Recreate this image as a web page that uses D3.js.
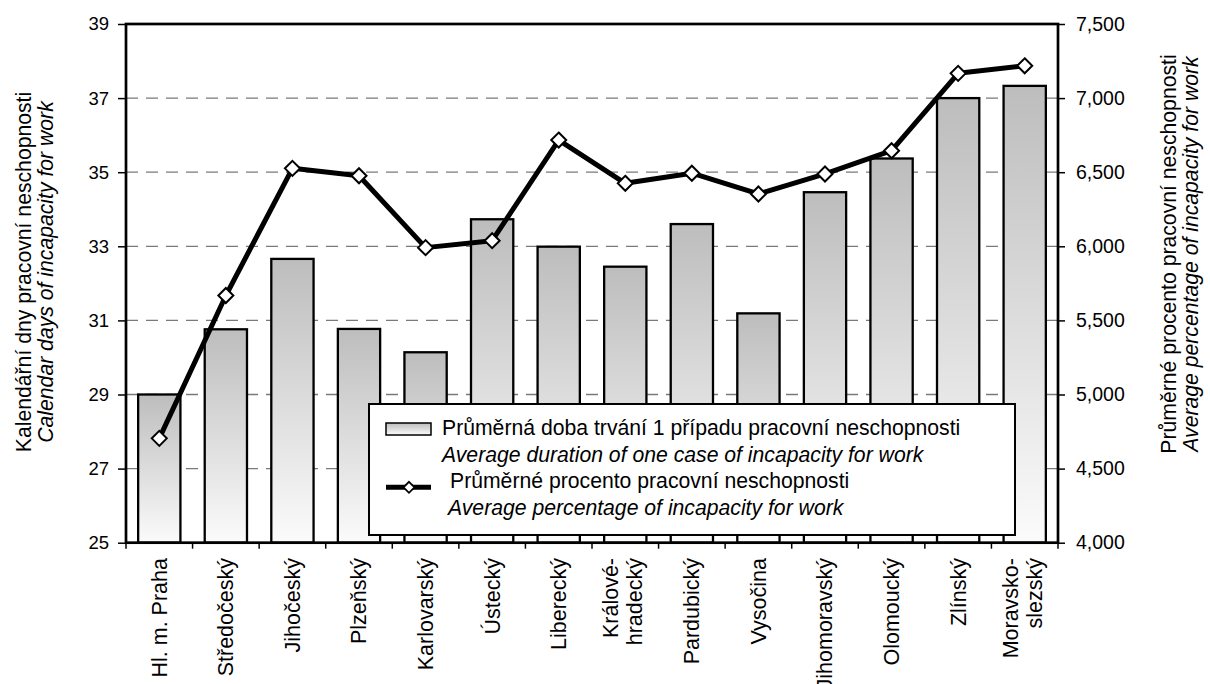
<!DOCTYPE html>
<html>
<head>
<meta charset="utf-8">
<script src="https://cdn.jsdelivr.net/npm/d3@7"></script>
<style>
  html, body { margin: 0; padding: 0; background: #fff; }
  svg { display: block; font-family: "Liberation Sans", Arial, sans-serif; }
</style>
</head>
<body>
<svg id="chart" width="1210" height="684"></svg>
<script>
// regions of the Czech Republic ("\n" = forced line break in the label)
const regions = ["Hl. m. Praha", "Středočeský", "Jihočeský", "Plzeňský", "Karlovarský", "Ústecký",
  "Liberecký", "Králové-\nhradecký", "Pardubický", "Vysočina", "Jihomoravský", "Olomoucký",
  "Zlínský", "Moravsko-\nslezský"];

// average duration of one case (calendar days) - bars, left axis
const avgDuration = [29.0, 30.76, 32.66, 30.77, 30.14, 33.73, 32.99, 32.45, 33.60, 31.19, 34.46, 35.37, 37.0, 37.33];

// average percentage of incapacity for work - line, right axis
const avgPercent = [4704, 5668, 6526, 6476, 5991, 6038, 6717, 6425, 6493, 6353, 6488, 6645, 7167, 7218];

const leftTicks = [25, 27, 29, 31, 33, 35, 37, 39];
const rightTicks = [4000, 4500, 5000, 5500, 6000, 6500, 7000, 7500];

const legendItems = [
  ["Průměrná doba trvání 1 případu pracovní neschopnosti", "Average duration of one case of incapacity for work"],
  ["Průměrné procento pracovní neschopnosti", "Average percentage of incapacity for work"]
];
const leftTitle = ["Kalendářní dny pracovní neschopnosti", "Calendar days of incapacity for work"];
const rightTitle = ["Průměrné procento pracovní neschopnosti", "Average percentage of incapacity for work"];

const svg = d3.select("#chart");
const plot = { left: 126, right: 1058, top: 24, bottom: 542.7 };

const x = d3.scaleBand().domain(regions).range([plot.left, plot.right]).padding(0);
const yL = d3.scaleLinear().domain([25, 39]).range([plot.bottom, plot.top]);
const yR = d3.scaleLinear().domain([4000, 7500]).range([plot.bottom, plot.top]);
const cx = d => x(d) + x.bandwidth() / 2;
const barW = x.bandwidth() * 0.635;

// gradient for the bars
const grad = svg.append("defs").append("linearGradient")
  .attr("id", "barGrad").attr("x1", 0).attr("y1", 0).attr("x2", 0).attr("y2", 1);
grad.append("stop").attr("offset", "0%").attr("stop-color", "#bdbdbd");
grad.append("stop").attr("offset", "100%").attr("stop-color", "#fbfbfb");

// dashed gridlines
svg.append("g").selectAll("line")
  .data(leftTicks.filter(t => t > 25 && t < 39))
  .join("line")
  .attr("x1", plot.left).attr("x2", plot.right)
  .attr("y1", d => yL(d)).attr("y2", d => yL(d))
  .attr("stroke", "#7a7a7a").attr("stroke-width", 1.3).attr("stroke-dasharray", "12,8");

// bars
svg.append("g").selectAll("rect")
  .data(regions)
  .join("rect")
  .attr("x", d => cx(d) - barW / 2)
  .attr("width", barW)
  .attr("y", (d, i) => yL(avgDuration[i]))
  .attr("height", (d, i) => plot.bottom - yL(avgDuration[i]))
  .attr("fill", "url(#barGrad)")
  .attr("stroke", "#000").attr("stroke-width", 2.3);

// line + diamond markers
const line = d3.line().x(d => cx(d)).y((d, i) => yR(avgPercent[i]));
svg.append("path")
  .attr("d", line(regions))
  .attr("fill", "none").attr("stroke", "#000").attr("stroke-width", 5)
  .attr("stroke-linejoin", "round");

const diamond = (px, py, r) => `M${px},${py - r}L${px + r},${py}L${px},${py + r}L${px - r},${py}Z`;
svg.append("g").selectAll("path")
  .data(regions)
  .join("path")
  .attr("d", (d, i) => diamond(cx(d), yR(avgPercent[i]), 7.5))
  .attr("fill", "#fff").attr("stroke", "#000").attr("stroke-width", 2);

// legend
const lg = svg.append("g");
lg.append("rect").attr("x", 369).attr("y", 404).attr("width", 646).attr("height", 131)
  .attr("fill", "#fff").attr("stroke", "#000").attr("stroke-width", 2);
lg.append("rect").attr("x", 386).attr("y", 423).attr("width", 45).attr("height", 12)
  .attr("fill", "url(#barGrad)").attr("stroke", "#000").attr("stroke-width", 1.5);
lg.append("line").attr("x1", 386).attr("x2", 431).attr("y1", 487.3).attr("y2", 487.3)
  .attr("stroke", "#000").attr("stroke-width", 5);
lg.append("path").attr("d", diamond(409, 487.3, 5.5))
  .attr("fill", "#fff").attr("stroke", "#000").attr("stroke-width", 1.8);
const legendText = [
  { t: legendItems[0][0], x: 442, y: 435, it: false },
  { t: legendItems[0][1], x: 442, y: 461.7, it: true },
  { t: legendItems[1][0], x: 450, y: 488.3, it: false },
  { t: legendItems[1][1], x: 448, y: 515, it: true }
];
lg.selectAll("text.leg").data(legendText).join("text")
  .attr("class", "leg")
  .attr("x", d => d.x).attr("y", d => d.y)
  .attr("font-size", "21.2px")
  .attr("font-style", d => d.it ? "italic" : "normal")
  .text(d => d.t);

// plot border
svg.append("rect")
  .attr("x", plot.left).attr("y", plot.top)
  .attr("width", plot.right - plot.left).attr("height", plot.bottom - plot.top)
  .attr("fill", "none").attr("stroke", "#000").attr("stroke-width", 2.7);

// left axis
const axL = svg.append("g").attr("transform", `translate(${plot.left},0)`)
  .call(d3.axisLeft(yL).tickValues(leftTicks).tickSize(8).tickPadding(9));
axL.select(".domain").remove();
axL.selectAll(".tick line").attr("stroke-width", 1.5);
axL.selectAll("text").attr("font-size", "18.5px").attr("font-family", "Liberation Sans, Arial, sans-serif").attr("fill", "#000");

// right axis
const axR = svg.append("g").attr("transform", `translate(${plot.right},0)`)
  .call(d3.axisRight(yR).tickValues(rightTicks).tickFormat(d3.format(",")).tickSize(7).tickPadding(11));
axR.select(".domain").remove();
axR.selectAll(".tick line").attr("stroke-width", 1.5);
axR.selectAll("text").attr("font-size", "19.5px").attr("font-family", "Liberation Sans, Arial, sans-serif").attr("fill", "#000");

// bottom category ticks at band boundaries
svg.append("g").selectAll("line")
  .data(regions.map(d => x(d)).concat([plot.right]))
  .join("line")
  .attr("x1", d => d).attr("x2", d => d)
  .attr("y1", plot.bottom).attr("y2", plot.bottom + 6)
  .attr("stroke", "#000").attr("stroke-width", 1.5);

// category labels (rotated)
const cat = svg.append("g").selectAll("g")
  .data(regions)
  .join("g")
  .attr("transform", d => `translate(${cx(d)},558) rotate(-90)`);
cat.each(function (d) {
  const parts = d.split("\n");
  const offs = parts.length === 1 ? [7.4] : [-7, 17];
  d3.select(this).selectAll("text").data(parts).join("text")
    .attr("x", 0).attr("y", (p, i) => offs[i])
    .attr("text-anchor", "end")
    .attr("font-size", "21.5px")
    .text(p => p);
});

// axis titles
const lt = svg.append("g").attr("transform", "translate(0,272) rotate(-90)");
lt.append("text").attr("x", 0).attr("y", 31).attr("text-anchor", "middle").attr("font-size", "21.2px").text(leftTitle[0]);
lt.append("text").attr("x", 0).attr("y", 53).attr("text-anchor", "middle").attr("font-size", "21.2px")
  .attr("font-style", "italic").text(leftTitle[1]);

const rt = svg.append("g").attr("transform", "translate(0,254) rotate(-90)");
rt.append("text").attr("x", 0).attr("y", 1176).attr("text-anchor", "middle").attr("font-size", "21.2px").text(rightTitle[0]);
rt.append("text").attr("x", 0).attr("y", 1198).attr("text-anchor", "middle").attr("font-size", "21.2px")
  .attr("font-style", "italic").text(rightTitle[1]);
</script>
</body>
</html>
